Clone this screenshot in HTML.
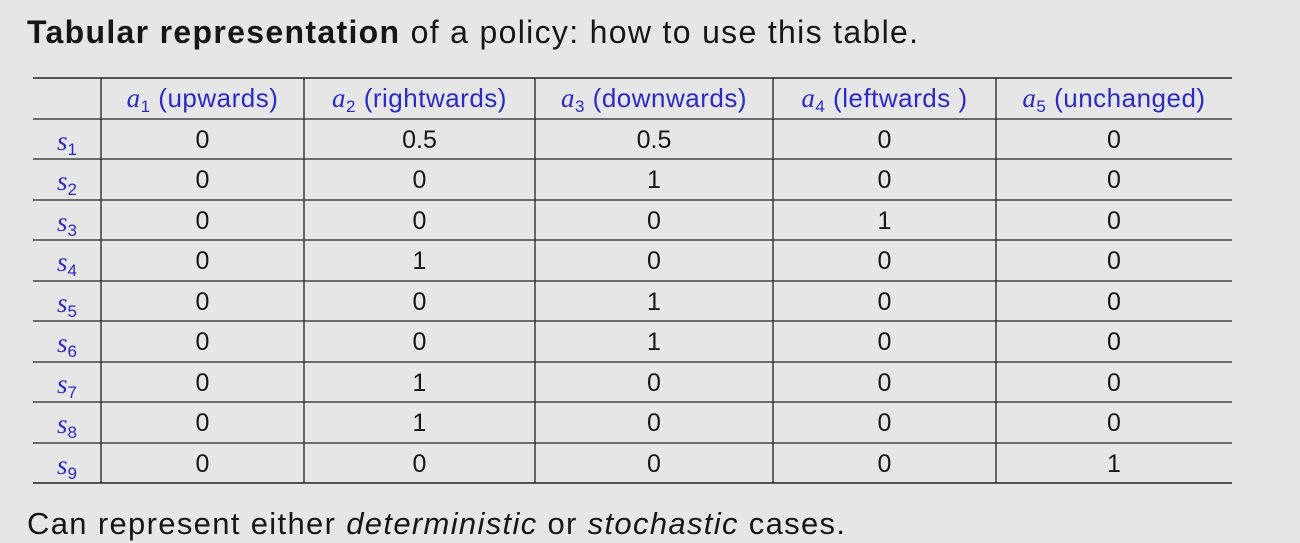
<!DOCTYPE html>
<html><head><meta charset="utf-8"><style>
html,body{margin:0;padding:0;background:#e6e6e6;}
svg{display:block;}
.t{font-family:"Liberation Sans",sans-serif;fill:#161616;}
.m{font-family:"Liberation Serif",serif;font-style:italic;fill:#2b2bc4;}
.h{font-family:"Liberation Sans",sans-serif;fill:#2b2bc4;}
</style></head><body>
<svg id="s" width="1300" height="543" viewBox="0 0 1300 543">
<rect width="1300" height="543" fill="#e6e6e6"/>
<text class="t" x="27" y="43" font-size="32" textLength="891" lengthAdjust="spacing"><tspan font-weight="bold">Tabular representation</tspan> of a policy: how to use this table.</text>
<text class="t" x="27" y="534" font-size="31" textLength="818" lengthAdjust="spacing">Can represent either <tspan font-style="italic">deterministic</tspan> or <tspan font-style="italic">stochastic</tspan> cases.</text>
<g id="tbl"></g>
</svg>
<script>
const actions=["(upwards)","(rightwards)","(downwards)","(leftwards )","(unchanged)"];
const states=["1","2","3","4","5","6","7","8","9"];
const probs=[
["0","0.5","0.5","0","0"],
["0","0","1","0","0"],
["0","0","0","1","0"],
["0","1","0","0","0"],
["0","0","1","0","0"],
["0","0","1","0","0"],
["0","1","0","0","0"],
["0","1","0","0","0"],
["0","0","0","0","1"]];
const NS="http://www.w3.org/2000/svg";
const g=document.getElementById('tbl');
const colX=[33,101,304,535,773,996,1232];
const rowY=[78,119,159,200,240,281,321,362,402,443,483];
function line(x1,y1,x2,y2,w){const l=document.createElementNS(NS,'line');
l.setAttribute('x1',x1);l.setAttribute('y1',y1);l.setAttribute('x2',x2);l.setAttribute('y2',y2);
l.setAttribute('stroke','#222');l.setAttribute('stroke-width',w);


g.appendChild(l);}
rowY.forEach((y,i)=>line(colX[0],y,colX[6],y,(i==0||i==rowY.length-1)?1.6:1.2));
for(let c=1;c<6;c++)line(colX[c],rowY[0],colX[c],rowY[rowY.length-1],1.3);
function txt(x,y,html,cls,name,fs){const t=document.createElementNS(NS,'text');
t.setAttribute('x',x);t.setAttribute('y',y);t.setAttribute('text-anchor','middle');
t.setAttribute('font-size',fs||'25');t.setAttribute('class',cls);t.innerHTML=html;


g.appendChild(t);return t;}
actions.forEach((a,i)=>{const cx=(colX[i+1]+colX[i+2])/2;
const t=txt(cx,rowY[0]+29,'<tspan class="m" font-size="27">a</tspan><tspan class="h" font-size="17" dy="5">'+(i+1)+'</tspan><tspan class="h" dy="-5"> '+a+'</tspan>','h','action-header','26');
t.setAttribute('letter-spacing','0.5');});
states.forEach((s,r)=>{const y=rowY[r+1]+29;
txt((colX[0]+colX[1])/2,y+2,'<tspan class="m" font-size="27">s</tspan><tspan class="h" font-size="17" dy="5">'+s+'</tspan>','h','state-label');
probs[r].forEach((v,c)=>{txt((colX[c+1]+colX[c+2])/2,y,v,'t','probability-cell','25');});});
</script>
</body></html>
